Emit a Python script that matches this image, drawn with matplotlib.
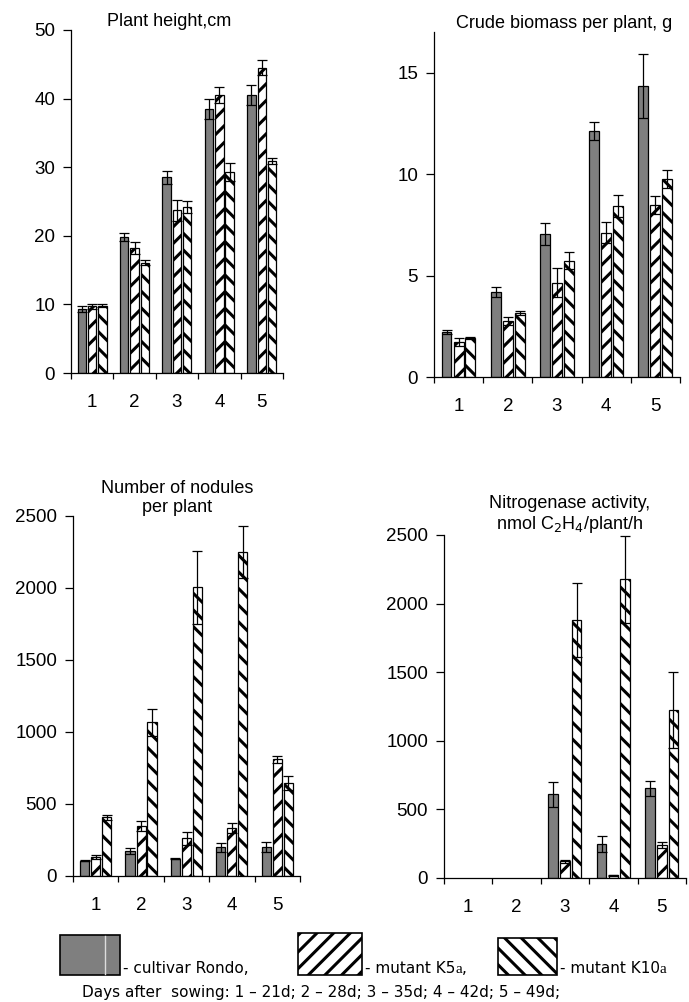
import matplotlib
matplotlib.use('Agg')
import matplotlib.pyplot as plt
from matplotlib.patches import Rectangle
import numpy as np

plt.rcParams['font.family'] = ['Liberation Sans', 'DejaVu Sans']
plt.rcParams['hatch.linewidth'] = 2.2
plt.rcParams['axes.linewidth'] = 0.9

days = [1, 2, 3, 4, 5]
series = ['cultivar Rondo', 'mutant K5a', 'mutant K10a']

# plant height, cm
height_rondo = [9.3, 19.8, 28.5, 38.5, 40.5]
height_k5 = [9.7, 18.2, 23.7, 40.5, 44.5]
height_k10 = [9.8, 16.1, 24.2, 29.3, 30.9]
height_err_rondo = [0.4, 0.6, 1.0, 1.5, 1.5]
height_err_k5 = [0.4, 0.9, 1.5, 1.2, 1.1]
height_err_k10 = [0.2, 0.4, 0.9, 1.3, 0.5]

# crude biomass per plant, g
biomass_rondo = [2.2, 4.18, 7.04, 12.12, 14.34]
biomass_k5 = [1.73, 2.76, 4.65, 7.12, 8.49]
biomass_k10 = [1.94, 3.17, 5.74, 8.42, 9.74]
biomass_err_rondo = [0.1, 0.25, 0.55, 0.45, 1.6]
biomass_err_k5 = [0.2, 0.2, 0.7, 0.5, 0.45]
biomass_err_k10 = [0.05, 0.1, 0.4, 0.55, 0.45]

# number of nodules per plant
nodules_rondo = [106, 176, 120, 199, 199]
nodules_k5 = [134, 347, 262, 336, 810]
nodules_k10 = [407, 1067, 2005, 2248, 644]
nodules_err_rondo = [5, 20, 5, 30, 35]
nodules_err_k5 = [15, 35, 45, 35, 25]
nodules_err_k10 = [20, 95, 255, 180, 50]

# nitrogenase activity, nmol C2H4/plant/h
nitro_rondo = [0, 0, 610, 249, 654]
nitro_k5 = [0, 0, 122, 20, 239]
nitro_k10 = [0, 0, 1878, 2176, 1224]
nitro_err_rondo = [0, 0, 90, 60, 55]
nitro_err_k5 = [0, 0, 10, 5, 20]
nitro_err_k10 = [0, 0, 270, 315, 275]

W, H = 689, 1002
gray = '#7f7f7f'
styles = [dict(color=gray, hatch=None),
          dict(color='white', hatch='//'),
          dict(color='white', hatch='\\\\')]
offsets = [-0.245, 0.0, 0.24]


def px_axes(fig, left, top, right, bottom):
    return fig.add_axes([left / W, 1 - bottom / H, (right - left) / W, (bottom - top) / H])


def draw_panel(ax, vals, errs, ymax, yticks, title, title_x, title_pad):
    x = np.array(days, dtype=float)
    for v, e, st, off in zip(vals, errs, styles, offsets):
        v = np.array(v, dtype=float)
        e = np.array(e, dtype=float)
        keep = v > 0  # empty days are not drawn at all
        ax.bar(x[keep] + off, v[keep], width=0.2, color=st['color'], hatch=st['hatch'],
               edgecolor='black', linewidth=0.9, zorder=2)
        ax.errorbar(x[keep] + off, v[keep], yerr=e[keep], fmt='none', ecolor='black',
                    elinewidth=0.9, capsize=3.5, capthick=0.9, zorder=3)
    ax.set_xlim(0.5, 5.5)
    ax.set_ylim(0, ymax)
    ax.set_yticks(yticks)
    ax.set_xticks(days)
    ax.set_xticks(np.arange(0.5, 6, 1), minor=True)
    ax.tick_params(axis='x', which='major', length=0, pad=15, labelsize=13.5)
    ax.tick_params(axis='x', which='minor', length=4.5, width=0.9, direction='out')
    ax.tick_params(axis='y', length=5.5, width=0.9, pad=6, labelsize=13.5)
    for s in ['top', 'right']:
        ax.spines[s].set_visible(False)
    ax.set_title(title, x=title_x, pad=title_pad, fontsize=13, linespacing=1.15)


fig = plt.figure(figsize=(W / 100, H / 100), dpi=100)

ax1 = px_axes(fig, 71, 30, 283, 373)
draw_panel(ax1, [height_rondo, height_k5, height_k10],
           [height_err_rondo, height_err_k5, height_err_k10],
           50, [0, 10, 20, 30, 40, 50], 'Plant height,cm', 0.465, 2)

ax2 = px_axes(fig, 434, 32, 680, 377)
draw_panel(ax2, [biomass_rondo, biomass_k5, biomass_k10],
           [biomass_err_rondo, biomass_err_k5, biomass_err_k10],
           17, [0, 5, 10, 15], 'Crude biomass per plant, g', 0.53, 3)

ax3 = px_axes(fig, 73, 516, 300, 876)
draw_panel(ax3, [nodules_rondo, nodules_k5, nodules_k10],
           [nodules_err_rondo, nodules_err_k5, nodules_err_k10],
           2500, [0, 500, 1000, 1500, 2000, 2500], 'Number of nodules\nper plant', 0.46, 1)

ax4 = px_axes(fig, 444, 535, 686, 878)
draw_panel(ax4, [nitro_rondo, nitro_k5, nitro_k10],
           [nitro_err_rondo, nitro_err_k5, nitro_err_k10],
           2500, [0, 500, 1000, 1500, 2000, 2500],
           'Nitrogenase activity,\nnmol C$_2$H$_4$/plant/h', 0.52, 4)

# legend drawn by hand at the bottom
boxes = [(60, 935, 120, 975), (298, 933, 362, 975), (498, 938, 557, 975)]
labels = [['- cultivar Rondo,'], ['- mutant K5', 'a', ','], ['- mutant K10', 'a']]
for (l, t, r, b), st in zip(boxes, styles):
    fig.add_artist(Rectangle((l / W, 1 - b / H), (r - l) / W, (b - t) / H,
                             transform=fig.transFigure, facecolor=st['color'],
                             hatch=st['hatch'], edgecolor='black', linewidth=1.2))
fig.add_artist(plt.Line2D([105 / W, 105 / W], [1 - 974 / H, 1 - 936 / H],
                          transform=fig.transFigure, color='#dddddd', linewidth=1))

fig.canvas.draw()
renderer = fig.canvas.get_renderer()
for (l, t, r, b), parts in zip(boxes, labels):
    xpos = (r + 3) / W
    for p in parts:
        fam = 'Liberation Serif' if p == 'a' else 'DejaVu Sans'
        txt = fig.text(xpos, 1 - 973 / H, p, fontsize=11, family=fam, va='baseline')
        xpos = txt.get_window_extent(renderer).x1 / W
fig.text(82 / W, 1 - 997 / H,
         'Days after  sowing: 1 \u2013 21d; 2 \u2013 28d; 3 \u2013 35d; 4 \u2013 42d; 5 \u2013 49d;',
         fontsize=11, family='DejaVu Sans', va='baseline')

fig.savefig('out.png', dpi=100)
